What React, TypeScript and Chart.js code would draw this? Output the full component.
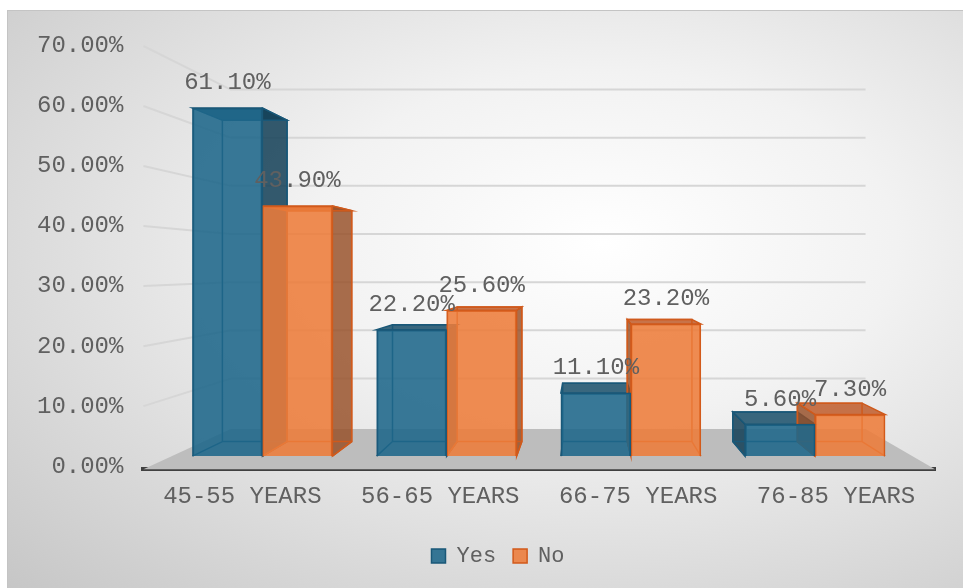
import React, { useEffect, useRef } from "react";
import { Chart, registerables } from "chart.js";

Chart.register(...registerables);

const categories = ["45-55 YEARS", "56-65 YEARS", "66-75 YEARS", "76-85 YEARS"];
const seriesNames = ["Yes", "No"];
const yesValues = [61.1, 22.2, 11.1, 5.6];
const noValues = [43.9, 25.6, 23.2, 7.3];
const yTicks = [0, 10, 20, 30, 40, 50, 60, 70];

const FONT = "'Liberation Mono', 'Courier New', monospace";
const TEXT = "#606060";

// perspective settings (fractions of the chart area)
const VP_X = 0.557;
const VP_Y = 0.52;
const BAR_DEPTH = 0.0765;
const FLOOR_DEPTH = 0.198;
const LEGEND_SHIFT = 22;

const faceStyles = [
  { side: "rgba(18,62,86,0.85)", top: "rgba(24,78,104,0.85)", edge: "#1a5878" },
  { side: "rgba(150,78,38,0.82)", top: "rgba(192,92,42,0.85)", edge: "#cf5a1c" },
];

const scenePlugin = {
  id: "scene3d",
  afterLayout(chart: any) {
    if (chart.legend) {
      chart.legend.left += LEGEND_SHIFT;
      chart.legend.right += LEGEND_SHIFT;
    }
  },
  beforeDatasetsDraw(chart: any) {
    const { ctx, chartArea } = chart;
    const { left, right, top, bottom } = chartArea;
    const vx = left + VP_X * (right - left);
    const vy = top + VP_Y * (bottom - top);
    const yScale = chart.scales.y;
    ctx.save();
    // wall gridlines
    ctx.strokeStyle = "#d6d6d6";
    ctx.lineWidth = 2;
    for (const v of yTicks) {
      if (v === 0) continue;
      const yf = yScale.getPixelForValue(v);
      const yb = yf + FLOOR_DEPTH * (vy - yf);
      const xl = left + FLOOR_DEPTH * (vx - left);
      const xr = right + FLOOR_DEPTH * (vx - right);
      ctx.beginPath();
      ctx.moveTo(left, yf);
      ctx.lineTo(xl, yb);
      ctx.lineTo(xr, yb);
      ctx.stroke();
    }
    // floor
    const fb = bottom + FLOOR_DEPTH * (vy - bottom);
    ctx.fillStyle = "#bdbdbd";
    ctx.beginPath();
    ctx.moveTo(left, bottom);
    ctx.lineTo(right, bottom);
    ctx.lineTo(right + FLOOR_DEPTH * (vx - right), fb);
    ctx.lineTo(left + FLOOR_DEPTH * (vx - left), fb);
    ctx.closePath();
    ctx.fill();

    // bar depth
    const back = (px: number, py: number) => [px + BAR_DEPTH * (vx - px), py + BAR_DEPTH * (vy - py)];
    chart.data.datasets.forEach((ds: any, di: number) => {
      const meta = chart.getDatasetMeta(di);
      const st = faceStyles[di];
      meta.data.forEach((el: any) => {
        const { x, y, base, width } = el.getProps(["x", "y", "base", "width"], true);
        const l = x - width / 2;
        const r = x + width / 2;
        const t = Math.min(y, base);
        const b = Math.max(y, base);
        const [blx, bty] = back(l, t);
        const [brx] = back(r, t);
        const [, bby] = back(l, b);
        ctx.lineWidth = 1.5;
        ctx.strokeStyle = st.edge;
        // top face
        ctx.fillStyle = st.top;
        ctx.beginPath();
        ctx.moveTo(l, t);
        ctx.lineTo(r, t);
        ctx.lineTo(brx, bty);
        ctx.lineTo(blx, bty);
        ctx.closePath();
        ctx.fill();
        ctx.stroke();
        // side face
        if (vx > r || vx < l) {
          const fx = vx > r ? r : l;
          const bx = vx > r ? brx : blx;
          ctx.fillStyle = st.side;
          ctx.beginPath();
          ctx.moveTo(fx, t);
          ctx.lineTo(bx, bty);
          ctx.lineTo(bx, bby);
          ctx.lineTo(fx, b);
          ctx.closePath();
          ctx.fill();
          ctx.stroke();
        }
        // back face edges
        ctx.beginPath();
        ctx.rect(blx, bty, brx - blx, bby - bty);
        ctx.moveTo(l, b);
        ctx.lineTo(blx, bby);
        ctx.moveTo(r, b);
        ctx.lineTo(brx, bby);
        ctx.stroke();
      });
    });
    ctx.restore();
  },
  afterDatasetsDraw(chart: any) {
    const { ctx } = chart;
    ctx.save();
    ctx.font = `24px ${FONT}`;
    ctx.fillStyle = TEXT;
    ctx.textAlign = "center";
    ctx.textBaseline = "middle";
    chart.data.datasets.forEach((ds: any, di: number) => {
      const meta = chart.getDatasetMeta(di);
      meta.data.forEach((el: any, i: number) => {
        const v = ds.data[i].y;
        ctx.fillText(v.toFixed(2) + "%", el.x, el.y - 25);
      });
    });
    ctx.restore();
  },
};

export default function App() {
  const ref = useRef<HTMLCanvasElement | null>(null);
  useEffect(() => {
    if (!ref.current) return;
    Chart.defaults.font.family = FONT;
    const chart = new Chart(ref.current, {
      type: "bar",
      data: {
        labels: categories,
        datasets: [
          {
            label: seriesNames[0],
            data: yesValues.map((v, i) => ({ x: i, y: v })),
            backgroundColor: "rgba(30,102,138,0.88)",
            borderColor: "#1a5878",
            borderWidth: 1.5,
            barThickness: 70,
            xAxisID: "xb",
            yAxisID: "yb",
          },
          {
            label: seriesNames[1],
            data: noValues.map((v, i) => ({ x: i, y: v })),
            backgroundColor: "rgba(237,124,58,0.88)",
            borderColor: "#d25a1b",
            borderWidth: 1.5,
            barThickness: 70,
            xAxisID: "xb",
            yAxisID: "yb",
          },
        ],
      },
      options: {
        responsive: false,
        animation: false,
        devicePixelRatio: 1,
        layout: { padding: { left: 9, right: 31, top: 35, bottom: 14 } },
        plugins: {
          tooltip: { enabled: false },
          legend: {
            position: "bottom",
            labels: {
              font: { size: 22, family: FONT },
              color: TEXT,
              boxWidth: 14,
              boxHeight: 14,
              padding: 17,
            },
          },
        },
        scales: {
          x: {
            type: "category",
            labels: categories,
            offset: true,
            grid: { display: false, drawTicks: false },
            border: { display: true, color: "#404040", width: 4 },
            ticks: { font: { size: 24, family: FONT }, color: TEXT, padding: 13, maxRotation: 0 },
            afterFit: (s: any) => {
              s.height += 4;
            },
          },
          y: {
            type: "linear",
            min: -0.5,
            max: 70,
            grid: { display: false, drawTicks: false },
            border: { display: false },
            afterBuildTicks: (s: any) => {
              s.ticks = yTicks.map((v) => ({ value: v }));
            },
            ticks: {
              font: { size: 24, family: FONT },
              color: TEXT,
              padding: 20,
              callback: (v: any) => Number(v).toFixed(2) + "%",
            },
          },
          xb: {
            type: "linear",
            display: false,
            min: -0.646,
            max: 3.651,
            offset: false,
          },
          yb: {
            type: "linear",
            display: false,
            min: -2.3,
            max: 72,
          },
        },
      } as any,
      plugins: [scenePlugin],
    });
    return () => chart.destroy();
  }, []);

  return (
    <div
      style={{
        position: "fixed",
        left: 7,
        top: 10,
        width: 960,
        height: 582,
        boxSizing: "border-box",
        border: "1px solid #c4c4c4",
        background:
          "radial-gradient(ellipse at 62% 40%, #ffffff 0%, #f2f2f2 35%, #c6c6c6 100%)",
      }}
    >
      <canvas ref={ref} width={958} height={580} style={{ display: "block" }} />
    </div>
  );
}
